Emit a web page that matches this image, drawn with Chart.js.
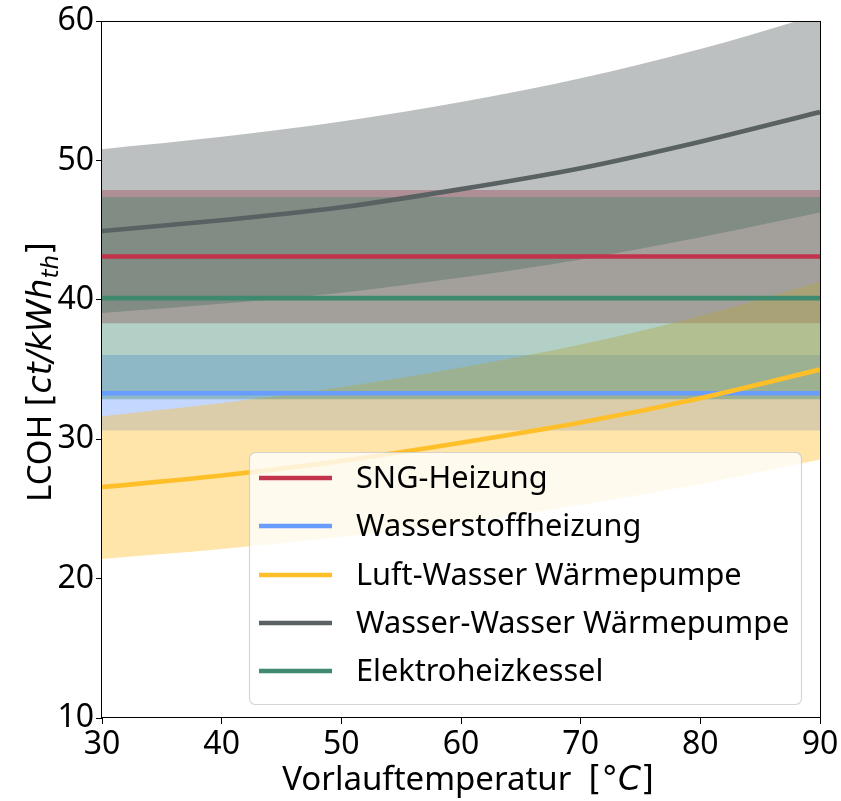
<!DOCTYPE html>
<html><head><meta charset="utf-8">
<script src="https://cdn.jsdelivr.net/npm/chart.js@4.4.0/dist/chart.umd.min.js"></script>
<style>html,body{margin:0;padding:0;background:#fff;}canvas{display:block;}</style>
</head><body>
<canvas id="c" width="841" height="801"></canvas>
<script>
// ---- data ----
const temps = [30, 40, 50, 60, 70, 80, 90];
const seriesNames = ['SNG-Heizung', 'Wasserstoffheizung', 'Luft-Wasser Wärmepumpe', 'Wasser-Wasser Wärmepumpe', 'Elektroheizkessel'];
const sngLine  = [43.12, 43.12, 43.12, 43.12, 43.12, 43.12, 43.12];
const sngLow   = [38.32, 38.32, 38.32, 38.32, 38.32, 38.32, 38.32];
const sngHigh  = [47.89, 47.89, 47.89, 47.89, 47.89, 47.89, 47.89];
const h2Line   = [33.30, 33.30, 33.30, 33.30, 33.30, 33.30, 33.30];
const h2Low    = [30.63, 30.63, 30.63, 30.63, 30.63, 30.63, 30.63];
const h2High   = [36.05, 36.05, 36.05, 36.05, 36.05, 36.05, 36.05];
const lwLine   = [26.57, 27.40, 28.45, 29.75, 31.20, 32.95, 35.00];
const lwLow    = [21.41, 22.12, 23.00, 24.00, 25.30, 26.80, 28.55];
const lwHigh   = [31.65, 32.60, 33.75, 35.15, 36.80, 38.85, 41.30];
const wwLine   = [44.94, 45.72, 46.65, 47.95, 49.45, 51.35, 53.48];
const wwLow    = [39.06, 39.72, 40.52, 41.60, 42.90, 44.50, 46.27];
const wwHigh   = [50.81, 51.70, 52.80, 54.20, 55.90, 58.00, 60.50];
const elLine   = [40.13, 40.13, 40.13, 40.13, 40.13, 40.13, 40.13];
const elLow    = [32.87, 32.87, 32.87, 32.87, 32.87, 32.87, 32.87];
const elHigh   = [47.39, 47.39, 47.39, 47.39, 47.39, 47.39, 47.39];
const xTicks = [30, 40, 50, 60, 70, 80, 90];
const yTicks = [10, 20, 30, 40, 50, 60];

// ---- styles ----
const colors = ['#C1344B', '#689CFF', '#FFBF29', '#5A6163', '#3F8A6F'];
const FILL_ALPHA = 0.4;
const FONT = "'Noto Sans', 'Open Sans', sans-serif";
const MATH = "'DejaVu Sans', sans-serif";

function rgba(hex, a) {
  const n = parseInt(hex.slice(1), 16);
  return `rgba(${(n >> 16) & 255},${(n >> 8) & 255},${n & 255},${a})`;
}
const pts = arr => temps.map((t, i) => ({ x: t, y: arr[i] }));

const groups = [
  [sngLine, sngLow, sngHigh],
  [h2Line, h2Low, h2High],
  [lwLine, lwLow, lwHigh],
  [wwLine, wwLow, wwHigh],
  [elLine, elLow, elHigh]
];

// Chart.js draws dataset 0 on top, so build from last group to first
const datasets = [];
for (let g = groups.length - 1; g >= 0; g--) {
  const [line, low, high] = groups[g];
  const c = colors[g];
  datasets.push({
    label: seriesNames[g], data: pts(line), borderColor: c, borderWidth: 4.6,
    pointRadius: 0, fill: false, cubicInterpolationMode: 'monotone'
  });
  datasets.push({
    label: seriesNames[g] + ' max', data: pts(high), borderWidth: 0, borderColor: 'transparent',
    pointRadius: 0, fill: { target: '+1' }, backgroundColor: rgba(c, FILL_ALPHA),
    cubicInterpolationMode: 'monotone'
  });
  datasets.push({
    label: seriesNames[g] + ' min', data: pts(low), borderWidth: 0, borderColor: 'transparent',
    pointRadius: 0, fill: false, cubicInterpolationMode: 'monotone'
  });
}

function drawSegs(ctx, segs, x, y) {
  let total = 0;
  segs.forEach(s => { ctx.font = s.font; s.w = ctx.measureText(s.t).width; total += s.w; });
  let cx = x - total / 2;
  ctx.textAlign = 'left';
  ctx.textBaseline = 'alphabetic';
  segs.forEach(s => { ctx.font = s.font; ctx.fillText(s.t, cx, y + (s.dy || 0)); cx += s.w; });
}

const decorPlugin = {
  id: 'decor',
  afterDraw(chart) {
    const ctx = chart.ctx, a = chart.chartArea;
    ctx.save();
    // frame
    ctx.strokeStyle = '#000'; ctx.lineWidth = 1;
    ctx.strokeRect(Math.round(a.left) - 0.5, Math.round(a.top) + 0.5, Math.round(a.right - a.left) + 1, Math.round(a.bottom - a.top) - 1);
    // legend
    const bx = 249, by = 452, bw = 552, bh = 252, r = 6;
    ctx.beginPath();
    ctx.roundRect(bx + 0.5, by + 0.5, bw, bh, r);
    ctx.fillStyle = 'rgba(255,255,255,0.8)';
    ctx.fill();
    ctx.strokeStyle = 'rgba(204,204,204,0.8)';
    ctx.lineWidth = 1.2;
    ctx.stroke();
    const itemY = [478, 526, 575, 623, 671];
    seriesNames.forEach((name, i) => {
      ctx.beginPath();
      ctx.moveTo(259, itemY[i]); ctx.lineTo(332, itemY[i]);
      ctx.strokeStyle = colors[i]; ctx.lineWidth = 4.6; ctx.stroke();
      ctx.fillStyle = '#000';
      ctx.font = `30.7px ${FONT}`;
      ctx.textAlign = 'left'; ctx.textBaseline = 'middle';
      ctx.fillText(name, 356, itemY[i] + 1);
    });
    // axis titles
    ctx.fillStyle = '#000';
    const F = 33;
    drawSegs(ctx, [
      { t: 'Vorlauftemperatur  ', font: `${F}px ${FONT}` },
      { t: '[°', font: `${F}px ${MATH}` },
      { t: 'C', font: `italic ${F}px ${MATH}` },
      { t: ']', font: `${F}px ${MATH}` }
    ], (a.left + a.right) / 2 + 7, 790);
    ctx.translate(51, 372);
    ctx.rotate(-Math.PI / 2);
    drawSegs(ctx, [
      { t: 'LCOH ', font: `${F}px ${FONT}` },
      { t: '[', font: `${F}px ${MATH}` },
      { t: 'ct/kWh', font: `italic ${F}px ${MATH}` },
      { t: 'th', font: `italic ${F * 0.7}px ${MATH}`, dy: F * 0.22 },
      { t: ']', font: `${F}px ${MATH}` }
    ], 0, 0);
    ctx.restore();
  }
};

new Chart(document.getElementById('c'), {
  type: 'line',
  data: { datasets },
  options: {
    responsive: false, animation: false, devicePixelRatio: 1,
    layout: { padding: { top: 20, right: 21, left: 0, bottom: 0 } },
    plugins: {
      legend: { display: false }, tooltip: { enabled: false },
      filler: { drawTime: 'beforeDatasetsDraw', propagate: false }
    },
    scales: {
      x: {
        type: 'linear', min: 30, max: 90,
        afterFit: s => { s.height = 83; },
        afterBuildTicks: s => { s.ticks = xTicks.map(v => ({ value: v })); },
        ticks: { color: '#000', font: { family: FONT, size: 32 }, padding: 2, maxRotation: 0 },
        grid: { display: true, drawOnChartArea: false, drawTicks: true, tickLength: 6, color: '#000', tickWidth: 1 },
        border: { display: false }
      },
      y: {
        type: 'linear', min: 10, max: 60,
        afterFit: s => { s.width = 102; },
        afterBuildTicks: s => { s.ticks = yTicks.map(v => ({ value: v })); },
        ticks: { color: '#000', font: { family: FONT, size: 32 }, padding: 2 },
        grid: { display: true, drawOnChartArea: false, drawTicks: true, tickLength: 6, color: '#000', tickWidth: 1 },
        border: { display: false }
      }
    }
  },
  plugins: [decorPlugin]
});
</script>
</body></html>
